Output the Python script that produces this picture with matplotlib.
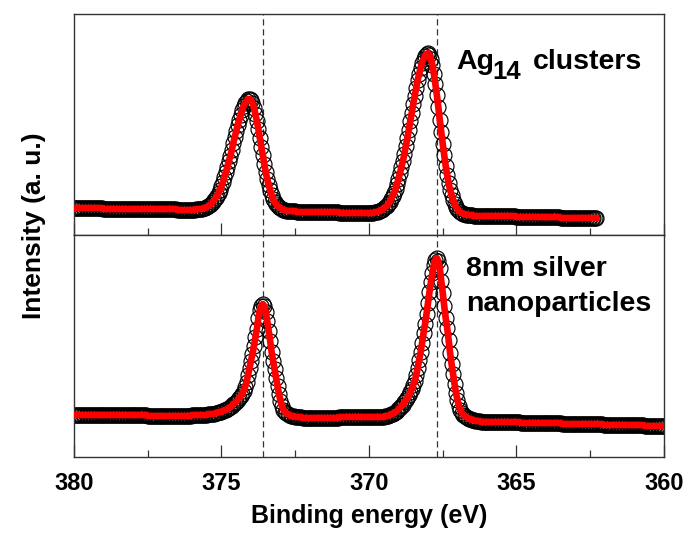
import numpy as np
import matplotlib
matplotlib.use("Agg")
import matplotlib.pyplot as plt
from matplotlib.ticker import MultipleLocator

plt.rcParams['font.family'] = ['Liberation Sans', 'DejaVu Sans']  # Arial-like bold text
plt.rcParams['font.weight'] = 'bold'
plt.rcParams['axes.labelweight'] = 'bold'

# XPS Ag 3d spectra, 380 eV downwards in 0.05 eV steps
e_start = 380.0
e_step = 0.05

# Ag14 clusters (top panel), ends at ~362.3 eV
ag14 = [
    27, 27, 27, 27, 27, 27, 27, 27, 27, 27, 27, 27, 27, 27, 27, 27, 27, 27, 27, 27,
    26, 26, 26, 26, 26, 26, 26, 26, 26, 26, 26, 26, 26, 26, 26, 26, 26, 26, 26, 26,
    26, 26, 26, 26, 26, 26, 26, 26, 26, 26, 26, 26, 26, 26, 26, 26, 26, 26, 26, 26,
    26, 26, 26, 26, 26, 26, 26, 26, 26, 26, 25, 25, 25, 25, 25, 25, 25, 25, 25, 25,
    25, 25, 25, 26, 26, 26, 26, 26, 27, 27, 28, 29, 30, 31, 33, 35, 37, 39, 42, 45,
    49, 53, 58, 63, 68, 74, 79, 85, 92, 98, 104, 110, 115, 120, 125, 129, 132, 134, 136, 136,
    135, 132, 127, 121, 114, 106, 97, 88, 80, 71, 63, 56, 50, 45, 40, 36, 33, 31, 29, 28,
    27, 26, 25, 25, 24, 24, 24, 24, 24, 24, 24, 23, 23, 23, 23, 23, 23, 23, 23, 23,
    23, 23, 23, 23, 23, 23, 23, 23, 23, 23, 23, 23, 23, 23, 23, 23, 23, 23, 23, 23,
    22, 22, 22, 22, 22, 22, 22, 22, 22, 22, 22, 22, 22, 22, 22, 22, 22, 22, 22, 22,
    22, 22, 22, 22, 23, 23, 23, 24, 25, 25, 27, 28, 29, 31, 33, 36, 39, 42, 46, 51,
    56, 62, 68, 74, 81, 89, 97, 105, 114, 122, 131, 139, 147, 155, 161, 167, 172, 176, 179, 181,
    182, 180, 176, 170, 161, 151, 140, 128, 115, 103, 91, 80, 69, 60, 52, 45, 40, 35, 31, 28,
    26, 24, 23, 22, 21, 21, 20, 20, 20, 20, 20, 19, 19, 19, 19, 19, 19, 19, 19, 19,
    19, 19, 19, 19, 19, 19, 19, 19, 19, 19, 19, 19, 19, 19, 19, 19, 19, 19, 19, 19,
    18, 18, 18, 18, 18, 18, 18, 18, 18, 18, 18, 18, 18, 18, 18, 18, 18, 18, 18, 18,
    18, 18, 18, 18, 18, 18, 18, 18, 18, 18, 17, 17, 17, 17, 17, 17, 17, 17, 17, 17,
    17, 17, 17, 17, 17, 17, 17, 17, 17, 17, 17, 17, 17, 17, 17,
]

# 8 nm silver nanoparticles (bottom panel), 380 -> 360 eV
ag_np = [
    42, 42, 42, 42, 42, 42, 42, 42, 42, 42, 42, 42, 42, 42, 42, 42, 42, 42, 42, 42,
    42, 42, 42, 42, 42, 42, 42, 42, 42, 42, 42, 42, 42, 42, 42, 42, 42, 42, 42, 42,
    42, 42, 42, 42, 42, 42, 42, 42, 42, 42, 41, 41, 41, 41, 41, 41, 41, 41, 41, 41,
    41, 41, 41, 41, 41, 41, 41, 41, 41, 41, 41, 41, 41, 41, 41, 41, 41, 41, 41, 41,
    42, 42, 42, 42, 42, 42, 42, 42, 42, 42, 42, 43, 43, 43, 43, 43, 44, 44, 45, 45,
    45, 46, 47, 47, 48, 49, 50, 51, 53, 54, 55, 57, 59, 61, 63, 66, 70, 75, 82, 89,
    96, 103, 111, 120, 128, 139, 147, 151, 153, 151, 145, 136, 126, 116, 105, 96, 88, 79, 71, 63,
    56, 51, 47, 45, 44, 43, 42, 41, 41, 41, 40, 40, 40, 40, 40, 39, 39, 39, 39, 39,
    39, 39, 39, 39, 39, 39, 39, 39, 39, 39, 39, 39, 39, 39, 39, 39, 39, 39, 39, 39,
    40, 40, 40, 40, 40, 40, 40, 40, 40, 40, 40, 40, 40, 40, 40, 40, 40, 40, 40, 40,
    40, 40, 40, 40, 40, 40, 40, 40, 40, 40, 40, 41, 41, 41, 42, 43, 43, 44, 45, 46,
    48, 49, 51, 52, 55, 57, 59, 62, 65, 68, 72, 76, 82, 89, 97, 105, 114, 124, 133, 143,
    154, 165, 175, 184, 192, 197, 199, 196, 189, 176, 164, 151, 139, 129, 117, 104, 93, 83, 73, 64,
    57, 51, 47, 44, 42, 41, 40, 39, 38, 38, 37, 37, 36, 36, 36, 36, 35, 35, 35, 35,
    35, 35, 35, 35, 35, 35, 35, 35, 35, 35, 35, 35, 35, 35, 35, 35, 35, 35, 35, 35,
    35, 35, 35, 34, 34, 34, 34, 34, 34, 34, 34, 34, 34, 34, 34, 34, 34, 34, 34, 34,
    34, 34, 34, 34, 34, 34, 34, 34, 34, 34, 34, 33, 33, 33, 33, 33, 33, 33, 33, 33,
    33, 33, 33, 33, 33, 33, 33, 33, 33, 33, 33, 33, 33, 33, 33, 33, 33, 33, 33, 32,
    32, 32, 32, 32, 32, 32, 32, 32, 32, 32, 32, 32, 32, 32, 32, 32, 32, 32, 32, 32,
    32, 32, 32, 32, 32, 32, 32, 31, 31, 31, 31, 31, 31, 31, 31, 31, 31, 31, 31, 31,
    31,
]

peak_lines = [373.6, 367.7]   # dashed guide lines (eV)
xticks = [380, 375, 370, 365, 360]

e_ag14 = e_start - e_step * np.arange(len(ag14))
e_np = e_start - e_step * np.arange(len(ag_np))

fig = plt.figure(figsize=(6.87, 5.42), dpi=100)
ax1 = fig.add_axes([0.1077, 0.5664, 0.8588, 0.4077])
ax2 = fig.add_axes([0.1077, 0.1568, 0.8588, 0.4096])

for ax, e, y, top in [(ax1, e_ag14, ag14, 221), (ax2, e_np, ag_np, 222)]:
    for v in peak_lines:
        ax.axvline(v, color='#333333', lw=0.9, ls=(0, (5, 3)), zorder=1)
    ax.plot(e, y, 'o', ms=10.8, mfc='none', mec='black', mew=0.85, zorder=2)  # data
    ax.plot(e, y, color='red', lw=4.8, zorder=3)  # fit
    ax.set_xlim(380, 360)
    ax.set_ylim(0, top)
    ax.set_yticks([])
    ax.set_xticks(xticks)
    ax.xaxis.set_minor_locator(MultipleLocator(2.5))
    ax.tick_params(axis='x', which='major', direction='in', length=8.5, width=0.9,
                   labelsize=17, pad=11, color='#333333')
    ax.tick_params(axis='x', which='minor', direction='in', length=4.7, width=0.9,
                   color='#333333')
    for s in ax.spines.values():
        s.set_linewidth(1.0)
        s.set_color('#333333')

ax1.tick_params(axis='x', labelbottom=False)
ax2.set_xlabel('Binding energy (eV)', fontsize=18, fontweight='bold', labelpad=6)

fig.text(34 / 687, 1 - 226 / 542, 'Intensity (a. u.)', rotation=90, fontsize=19,
         ha='center', va='center')

# sample labels
fig.text(456 / 687, 1 - 69.3 / 542, 'Ag', fontsize=20.5, ha='left', va='baseline')
fig.text(492 / 687, 1 - 79.3 / 542, '14', fontsize=18.5, ha='left', va='baseline')
fig.text(533 / 687, 1 - 69.3 / 542, 'clusters', fontsize=20.5, ha='left', va='baseline')
fig.text(466 / 687, 1 - 276 / 542, '8nm silver', fontsize=20.5, ha='left', va='baseline')
fig.text(466 / 687, 1 - 310.7 / 542, 'nanoparticles', fontsize=20.5, ha='left', va='baseline')

fig.savefig('out.png', dpi=100)
